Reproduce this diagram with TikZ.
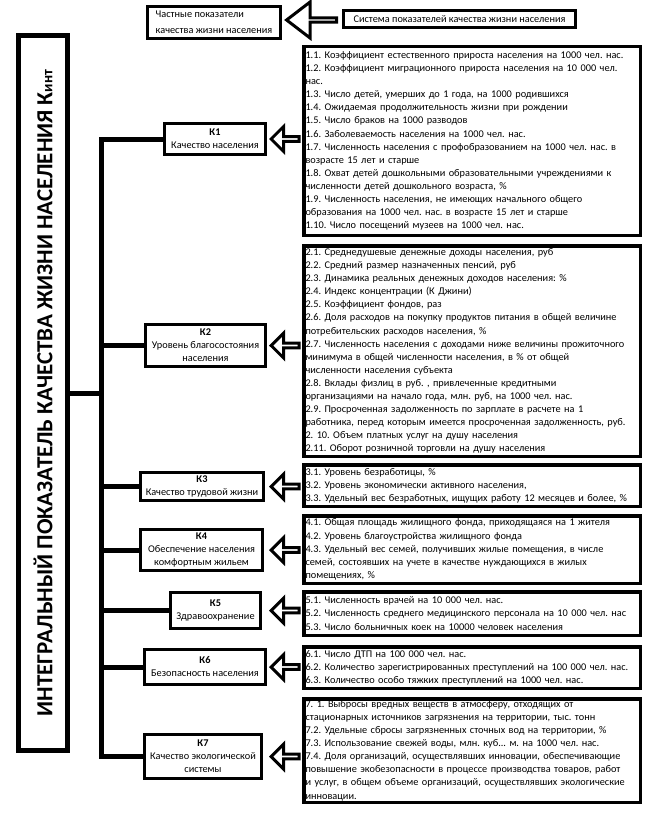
\documentclass[tikz,border=0pt]{standalone}
\usepackage{fontspec}
\setmainfont{Carlito}
\usetikzlibrary{shapes.arrows}

\tikzset{
  det/.style={draw, line width=3.5pt, text width=333pt, inner xsep=1.75pt, inner ysep=0pt,
    align=left, font=\fontsize{10.3}{13.1}\selectfont},
  kbox/.style={draw, line width=3pt, inner sep=0pt, align=center, font=\fontsize{10.3}{13}\selectfont},
  topbox/.style={draw, line width=3pt, inner xsep=3pt, inner ysep=0pt, align=left,
    font=\fontsize{10.3}{16}\selectfont},
  bus/.style={line width=5pt},
  harrow/.style={single arrow, draw, line width=3pt, fill=white, shape border rotate=180,
    inner sep=0pt, minimum height=28pt, minimum width=25pt, single arrow head extend=6.5pt},
}

\begin{document}
\frenchspacing
\begin{tikzpicture}[x=1pt, y=-1pt]
  \useasboundingbox (0,0) rectangle (668,816);

  \node[topbox, minimum width=133pt, minimum height=32pt] (part) at (214,22.5)
    {Частные показатели\\качества жизни населения};
  \node[topbox, minimum width=232pt, minimum height=17pt] (sys) at (459.5,19)
    {Система показателей качества жизни населения};
  \node[harrow, minimum height=50pt, minimum width=36pt, single arrow head extend=11pt,
    single arrow tip angle=75] (atop) at (313,20) {};

  \node[draw, line width=5pt, rotate=90, minimum width=715pt, minimum height=49pt, inner sep=0pt,
    font=\fontsize{23}{27}\selectfont\bfseries] (main) at (43,393)
    {ИНТЕГРАЛЬНЫЙ ПОКАЗАТЕЛЬ КАЧЕСТВА ЖИЗНИ НАСЕЛЕНИЯ К{\fontsize{15}{15}\selectfont инт}};

  \node[kbox, minimum width=101pt, minimum height=31pt] (k1) at (215,139)
    {\textbf{К1}\\Качество населения};
  \node[kbox, minimum width=120pt, minimum height=42pt] (k2) at (205.5,345.5)
    {\textbf{К2}\\Уровень благосостояния\\населения};
  \node[kbox, minimum width=123pt, minimum height=28pt] (k3) at (202,486.5)
    {\textbf{К3}\\Качество трудовой жизни};
  \node[kbox, minimum width=122pt, minimum height=41pt] (k4) at (201.5,550)
    {\textbf{К4}\\Обеспечение населения\\комфортным жильем};
  \node[kbox, minimum width=90pt, minimum height=36pt] (k5) at (215.5,610.5)
    {\textbf{К5}\\Здравоохранение};
  \node[kbox, minimum width=121pt, minimum height=35pt] (k6) at (205,667)
    {\textbf{К6}\\Безопасность населения};
  \node[kbox, minimum width=117pt, minimum height=44pt] (k7) at (203,756.5)
    {\textbf{К7}\\Качество экологической\\системы};

  \coordinate (bx) at (101,400);
  \draw[bus] (k1.west) -| (bx) |- (k7.west);
  \foreach \k in {k2,k3,k4,k5,k6}
    \draw[bus] (\k.west) -- (\k.west -| bx);
  \draw[bus] (main.south) -- (main.south -| bx);

  \node[det, minimum height=188.5pt] (d1) at (472,141)
    {1.1. Коэффициент естественного прироста населения на 1000 чел. нас.\\
     1.2. Коэффициент миграционного прироста населения на 10 000 чел.\\
     нас.\\
     1.3. Число детей, умерших до 1 года, на 1000 родившихся\\
     1.4. Ожидаемая продолжительность жизни при рождении\\
     1.5. Число браков на 1000 разводов\\
     1.6. Заболеваемость населения на 1000 чел. нас.\\
     1.7. Численность населения с профобразованием на 1000 чел. нас. в\\
     возрасте 15 лет и старше\\
     1.8. Охват детей дошкольными образовательными учреждениями к\\
     численности детей дошкольного возраста, \%\\
     1.9. Численность населения, не имеющих начального общего\\
     образования на 1000 чел. нас. в возрасте 15 лет и старше\\
     1.10. Число посещений музеев на 1000 чел. нас.};
  \node[det, minimum height=210.5pt] (d2) at (472,351)
    {2.1. Среднедушевые денежные доходы населения, руб\\
     2.2. Средний размер назначенных пенсий, руб\\
     2.3. Динамика реальных денежных доходов населения: \%\\
     2.4. Индекс концентрации (К Джини)\\
     2.5. Коэффициент фондов, раз\\
     2.6. Доля расходов на покупку продуктов питания в общей величине\\
     потребительских расходов населения, \%\\
     2.7. Численность населения с доходами ниже величины прожиточного\\
     минимума в общей численности населения, в \% от общей\\
     численности населения субъекта\\
     2.8. Вклады физлиц в руб. , привлеченные кредитными\\
     организациями на начало года, млн. руб, на 1000 чел. нас.\\
     2.9. Просроченная задолженность по зарплате в расчете на 1\\
     работника, перед которым имеется просроченная задолженность, руб.\\
     2. 10. Объем платных услуг на душу населения\\
     2.11. Оборот розничной торговли на душу населения};
  \node[det, minimum height=41.5pt] (d3) at (472,485.5)
    {3.1. Уровень безработицы, \%\\
     3.2. Уровень экономически активного населения,\\
     3.3. Удельный вес безработных, ищущих работу 12 месяцев и более, \%};
  \node[det, minimum height=67.5pt] (d4) at (472,549.5)
    {4.1. Общая площадь жилищного фонда, приходящаяся на 1 жителя\\
     4.2. Уровень благоустройства жилищного фонда\\
     4.3. Удельный вес семей, получивших жилые помещения, в числе\\
     семей, состоявших на учете в качестве нуждающихся в жилых\\
     помещениях, \%};
  \node[det, minimum height=43.5pt] (d5) at (472,613.5)
    {5.1. Численность врачей на 10 000 чел. нас.\\
     5.2. Численность среднего медицинского персонала на 10 000 чел. нас\\
     5.3. Число больничных коек на 10000 человек населения};
  \node[det, minimum height=41.5pt] (d6) at (472,667.5)
    {6.1. Число ДТП на 100 000 чел. нас.\\
     6.2. Количество зарегистрированных преступлений на 100 000 чел. нас.\\
     6.3. Количество особо тяжких преступлений на 1000 чел. нас.};
  \node[det, minimum height=103.5pt] (d7) at (472,750.5)
    {7. 1. Выбросы вредных веществ в атмосферу, отходящих от\\
     стационарных источников загрязнения на территории, тыс. тонн\\
     7.2. Удельные сбросы загрязненных сточных вод на территории, \%\\
     7.3. Использование свежей воды, млн. куб... м. на 1000 чел. нас.\\
     7.4. Доля организаций, осуществлявших инновации, обеспечивающие\\
     повышение экобезопасности в процессе производства товаров, работ\\
     и услуг, в общем объеме организаций, осуществлявших экологические\\
     инновации.};

  \coordinate (ax) at (269,0);
  \foreach \k in {1,...,7}
    \node[harrow, anchor=tip] (a\k) at (k\k.east -| ax) {};
\end{tikzpicture}
\end{document}
